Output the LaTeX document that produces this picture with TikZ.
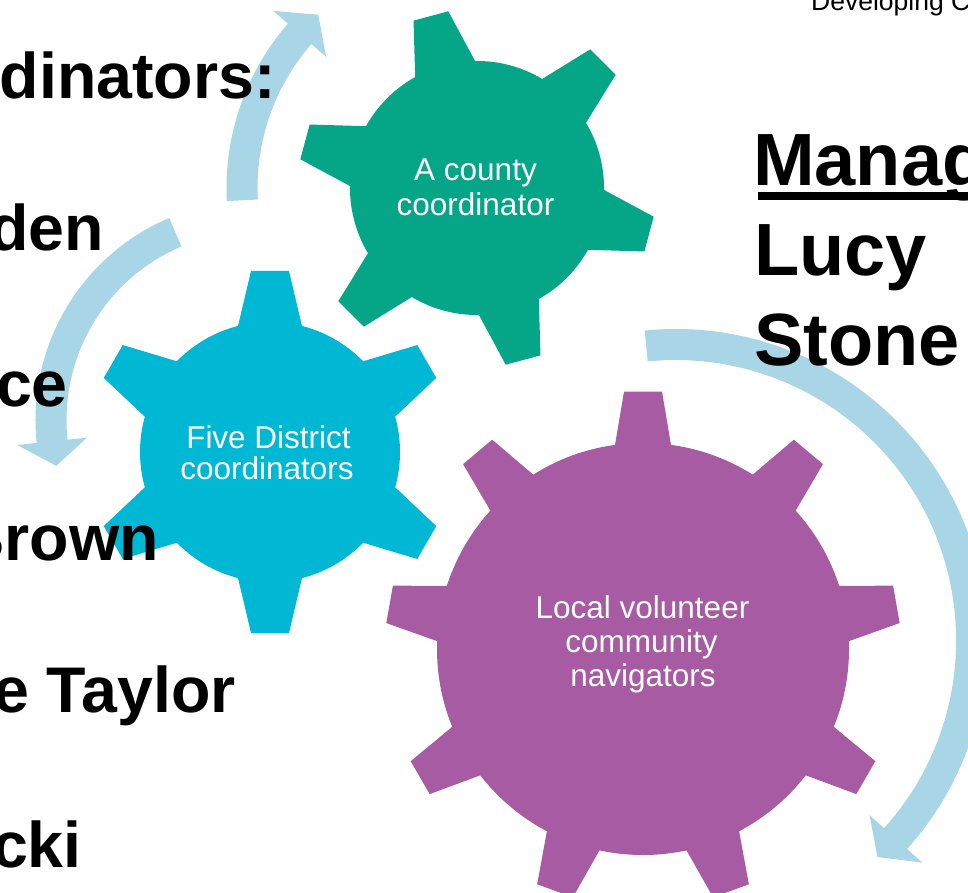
\documentclass[tikz,border=0pt]{standalone}
\usepackage{fontspec}
\setmainfont{Liberation Sans}
\usetikzlibrary{calc}
\definecolor{gearGreen}{RGB}{4,166,135}
\definecolor{gearCyan}{RGB}{0,184,212}
\definecolor{gearPurple}{RGB}{166,91,162}
\definecolor{arrowBlue}{RGB}{168,214,231}
\tikzset{
  listtext/.style={font=\fontsize{64.5}{70}\selectfont\bfseries, inner sep=0pt, anchor=base east},
  mgrtext/.style={font=\fontsize{74}{80}\selectfont\bfseries, inner sep=0pt, anchor=base west},
  geartext/.style={font=\fontsize{31.5}{34}\selectfont, text=white, inner sep=0pt, anchor=base},
  toptext/.style={font=\fontsize{26.5}{30}\selectfont, inner sep=0pt, anchor=base west},
  arrowfill/.style={fill=arrowBlue},
}
% #1,#2 centre; #3 body radius; #4 tip radius; #5 base half width; #6 tip half width; #7 tooth angles; #8 colour
\newcommand{\mygear}[8]{%
  \begin{scope}[shift={(#1,#2)}]
    \fill[#8] (0,0) circle[radius=#3];
    \pgfmathsetmacro{\gbb}{asin(#5/#3)}
    \pgfmathsetmacro{\gbt}{asin(#6/#4)}
    \pgfmathsetmacro{\gri}{#3-12}
    \foreach \a in {#7} {
      \pgfmathsetmacro{\aone}{\a-\gbb}
      \pgfmathsetmacro{\atwo}{\a-\gbt}
      \pgfmathsetmacro{\athree}{\a+\gbt}
      \pgfmathsetmacro{\afour}{\a+\gbb}
      \fill[#8] (\aone:\gri) -- (\aone:#3) -- (\atwo:#4) -- (\athree:#4) -- (\afour:#3) -- (\afour:\gri) -- cycle;
    }
  \end{scope}}
\begin{document}
\begin{tikzpicture}[x=1pt,y=1pt]
  \useasboundingbox (0,0) rectangle (968,-893);
  \clip (0,0) rectangle (968,-893);
  \fill[white] (0,0) rectangle (968,-893);

  % circular arrows
  \begin{scope}[shift={(477,-188)}]
    \fill[arrowfill] (183:250.5) arc[start angle=183, end angle=139, radius=250.5]
      -- (139:270) -- (132.5:235) -- (139:200) -- (139:219.5)
      arc[start angle=139, end angle=183, radius=219.5] -- cycle;
  \end{scope}
  \begin{scope}[shift={(255,-420)}]
    \fill[arrowfill] (113:219.5) arc[start angle=113, end angle=186, radius=219.5]
      -- (186:239) -- (193:204) -- (186:169) -- (186:188.5)
      arc[start angle=186, end angle=113, radius=188.5] -- cycle;
  \end{scope}
  \begin{scope}[shift={(675.6,-640.5)}]
    \fill[arrowfill] (95.7:311.5) arc[start angle=95.7, end angle=-42, radius=311.5]
      -- (-42:332) -- (-47:296) -- (-42:261) -- (-42:280.5)
      arc[start angle=-42, end angle=95.7, radius=280.5] -- cycle;
  \end{scope}

  % gears
  \mygear{477}{-188}{127}{179}{31}{18}{105,45,-15,-75,-135,165}{gearGreen}
  \mygear{270}{-452}{130}{182}{32}{19}{90,30,-30,-90,-150,150}{gearCyan}
  \mygear{643}{-649}{206}{258}{28}{19}{90,50,10,-30,-70,-110,-150,170,130}{gearPurple}

  % gear labels
  \node[geartext] (g1a) at (475.5,-181) {A county};
  \node[geartext] (g1b) at (475.5,-215) {coordinator};
  \node[geartext] (g2a) at (268.5,-448) {Five District};
  \node[geartext] (g2b) at (267,-479) {coordinators};
  \node[geartext] (g3a) at (642.5,-618) {Local volunteer};
  \node[geartext] (g3b) at (641.5,-652) {community};
  \node[geartext] (g3c) at (643,-686) {navigators};

  % left list
  \node[listtext] (l1) at (276,-99) {dinators:};
  \node[listtext] (l2) at (104,-251) {den};
  \node[listtext] (l3) at (68,-406) {ce};
  \node[listtext] (l4) at (159,-560) {Brown};
  \node[listtext] (l5) at (236,-712) {e Taylor};
  \node[listtext] (l6) at (82,-867) {cki};

  % right text
  \node[toptext] (top) at (811,-11) {Developing C};
  \node[mgrtext] (mgr) at (753,-186) {Manag};
  \draw[line width=7.5pt] ($(mgr.base west)+(5,-10)$) -- ($(mgr.base east)+(40,-10)$);
  \node[mgrtext] (lucy) at (754,-275) {Lucy};
  \node[mgrtext] (stone) at (754,-365) {Stone};
\end{tikzpicture}
\end{document}
